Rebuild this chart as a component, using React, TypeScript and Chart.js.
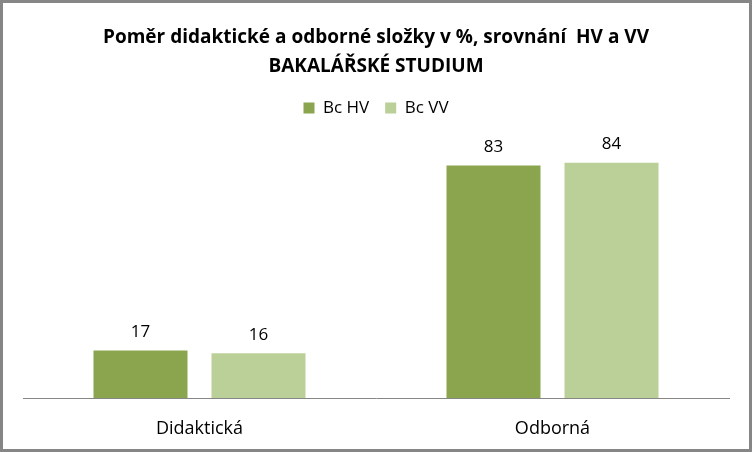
import React, { useEffect, useRef } from "react";
import { Chart, registerables } from "chart.js";

Chart.register(...registerables);

const categories = ["Didaktická", "Odborná"];
const seriesNames = ["Bc HV", "Bc VV"];
const hvValues = [17, 83];
const vvValues = [16, 84];
const titleLines = ["Poměr didaktické a odborné složky v %, srovnání  HV a VV", "BAKALÁŘSKÉ STUDIUM"];

const FONT = "'Open Sans', 'Noto Sans', sans-serif";

const framePlugin = {
  id: "frame",
  beforeDraw(chart: any) {
    const { ctx, width, height } = chart;
    ctx.save();
    ctx.fillStyle = "#ffffff";
    ctx.fillRect(0, 0, width, height);
    ctx.restore();
  },
  afterDraw(chart: any) {
    const { ctx, width, height } = chart;
    ctx.save();
    ctx.strokeStyle = "#868686";
    ctx.lineWidth = 3;
    ctx.strokeRect(1.5, 1.5, width - 3, height - 3);
    ctx.restore();
  },
};

const valueLabels = {
  id: "valueLabels",
  afterDatasetsDraw(chart: any) {
    const { ctx } = chart;
    ctx.save();
    ctx.font = `17px ${FONT}`;
    ctx.fillStyle = "#000000";
    ctx.textAlign = "center";
    ctx.textBaseline = "middle";
    chart.data.datasets.forEach((ds: any, i: number) => {
      const meta = chart.getDatasetMeta(i);
      meta.data.forEach((bar: any, j: number) => {
        ctx.fillText(String(ds.data[j]), bar.x, bar.y - 18.5);
      });
    });
    ctx.restore();
  },
};

export default function App() {
  const ref = useRef<HTMLCanvasElement>(null);
  useEffect(() => {
    if (!ref.current) return;
    const chart = new Chart(ref.current, {
      type: "bar",
      data: {
        labels: categories,
        datasets: [
          { label: seriesNames[0], data: hvValues, backgroundColor: "#8aa54e" },
          { label: seriesNames[1], data: vvValues, backgroundColor: "#bbcf99" },
        ],
      },
      options: {
        responsive: false,
        animation: false,
        events: [],
        categoryPercentage: 0.6686,
        barPercentage: 0.7966,
        layout: { padding: { left: 23, right: 23, top: 0, bottom: 0 } },
        plugins: {
          title: {
            display: true,
            text: titleLines,
            color: "#000000",
            font: { family: FONT, size: 19, weight: "bold", lineHeight: 1.526 },
            padding: { top: 22.8, bottom: 2.7 },
          },
          legend: {
            display: true,
            position: "top",
            maxHeight: 34.5,
            labels: {
              boxWidth: 11,
              boxHeight: 11,
              color: "#000000",
              font: { family: FONT, size: 17 },
              padding: 16,
            },
          },
          tooltip: { enabled: false },
        },
        scales: {
          x: {
            grid: { display: false, drawTicks: true, tickLength: 8 },
            border: { display: true, color: "#868686", width: 1 },
            ticks: { color: "#000000", font: { family: FONT, size: 18 }, padding: 12.2 },
          },
          y: {
            display: false,
            min: 0,
            max: 100,
          },
        },
      },
      plugins: [framePlugin, valueLabels],
    });
    return () => chart.destroy();
  }, []);
  return (
    <div style={{ position: "fixed", left: 0, top: 0, width: 752, height: 452 }}>
      <canvas ref={ref} width={752} height={452} style={{ display: "block" }} />
    </div>
  );
}
